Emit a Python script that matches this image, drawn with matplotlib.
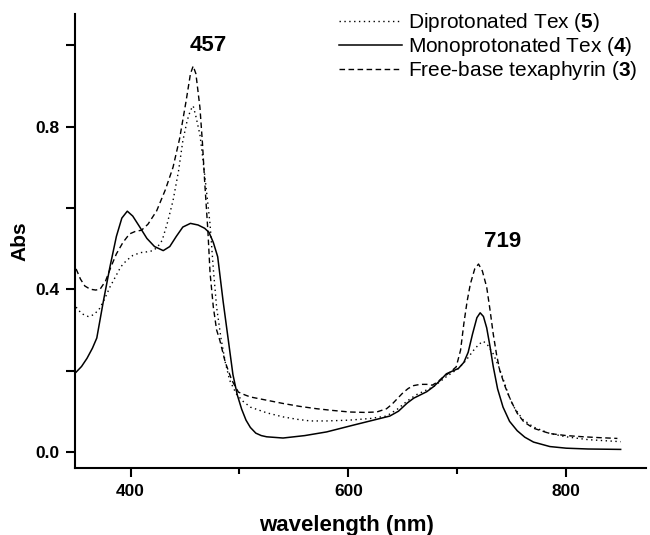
import matplotlib
matplotlib.use("Agg")
import matplotlib.pyplot as plt
from matplotlib.ticker import FixedLocator

plt.rcParams['font.family'] = ['Liberation Sans', 'DejaVu Sans']
plt.rcParams['mathtext.fontset'] = 'custom'
plt.rcParams['mathtext.rm'] = 'Liberation Sans'
plt.rcParams['mathtext.bf'] = 'Liberation Sans:bold'

# Monoprotonated Tex (4) - solid
wl_mono = [350, 355, 360, 365, 369, 375, 381, 387, 392, 397, 402, 408, 415, 422, 430,
           436, 442, 448, 455, 462, 468, 472, 476, 480, 485, 490, 494, 498, 502, 506,
           510, 515, 520, 525, 540, 560, 580, 605, 620, 638, 646, 654, 660, 666, 672,
           678, 684, 690, 695, 701, 706, 710, 714, 718, 721, 724, 727, 730, 733, 737,
           742, 748, 755, 762, 770, 785, 800, 820, 850]
abs_mono = [0.196, 0.21, 0.23, 0.255, 0.28, 0.37, 0.454, 0.53, 0.575, 0.592, 0.58, 0.555,
            0.525, 0.505, 0.495, 0.505, 0.53, 0.553, 0.562, 0.558, 0.55, 0.54, 0.515,
            0.48, 0.37, 0.27, 0.19, 0.14, 0.105, 0.078, 0.06, 0.046, 0.04, 0.037, 0.034,
            0.040, 0.049, 0.066, 0.076, 0.088, 0.10, 0.12, 0.132, 0.14, 0.148, 0.16,
            0.175, 0.192, 0.198, 0.205, 0.22, 0.245, 0.29, 0.33, 0.342, 0.333, 0.305,
            0.26, 0.21, 0.155, 0.11, 0.075, 0.052, 0.036, 0.024, 0.013, 0.009, 0.007,
            0.006]

# Free-base texaphyrin (3) - dashed
wl_free = [350, 354, 358, 363, 368, 372, 377, 382, 387, 393, 399, 405, 410, 416, 424,
           432, 439, 445, 451, 455, 457.5, 460, 463.7, 466, 468, 471, 473, 476, 479, 482,
           487, 493, 499, 505, 510, 525, 540, 555, 571, 585, 601, 615, 626, 635, 640,
           645, 650, 655, 660, 666, 672, 677, 682, 687, 693, 699, 703, 706, 709, 712,
           716, 719.5, 723, 727, 730, 733, 736, 739, 744, 749, 755, 761, 770, 785, 800,
           816, 830, 847]
abs_free = [0.45, 0.425, 0.408, 0.40, 0.398, 0.40, 0.42, 0.455, 0.487, 0.515, 0.536,
            0.543, 0.545, 0.56, 0.593, 0.645, 0.70, 0.77, 0.863, 0.93, 0.949, 0.93,
            0.847, 0.76, 0.667, 0.544, 0.44, 0.356, 0.30, 0.274, 0.22, 0.176, 0.147,
            0.14, 0.135, 0.127, 0.119, 0.112, 0.106, 0.102, 0.098, 0.097, 0.098, 0.106,
            0.117, 0.131, 0.145, 0.156, 0.163, 0.166, 0.166, 0.164, 0.172, 0.184, 0.195,
            0.209, 0.25, 0.315, 0.37, 0.413, 0.45, 0.462, 0.445, 0.405, 0.35, 0.29, 0.24,
            0.2, 0.16, 0.127, 0.095, 0.074, 0.058, 0.045, 0.04, 0.037, 0.035, 0.033]

# Diprotonated Tex (5) - dotted
wl_di = [350, 355, 361, 366, 371, 376, 381, 386, 391, 396, 402, 409, 415, 421, 425, 429,
         434, 439, 444, 448, 452, 455, 457.5, 460, 463.7, 466, 468, 471, 473, 476, 479,
         483, 487, 491, 497, 503, 510, 525, 540, 553, 565, 580, 601, 620, 635, 645, 654,
         662, 670, 678, 690, 701, 708, 715, 720, 724, 728, 733, 738, 742.5, 747, 752,
         760, 770, 785, 800, 820, 850]
abs_di = [0.356, 0.34, 0.333, 0.337, 0.35, 0.375, 0.405, 0.43, 0.455, 0.47, 0.483, 0.49,
          0.492, 0.495, 0.505, 0.52, 0.565, 0.618, 0.69, 0.765, 0.815, 0.84, 0.851, 0.825,
          0.78, 0.73, 0.683, 0.61, 0.56, 0.45, 0.356, 0.28, 0.22, 0.176, 0.143, 0.125,
          0.11, 0.096, 0.086, 0.08, 0.076, 0.076, 0.078, 0.082, 0.088, 0.105, 0.125, 0.14,
          0.15, 0.16, 0.185, 0.205, 0.225, 0.25, 0.265, 0.272, 0.262, 0.241, 0.21, 0.176,
          0.14, 0.11, 0.08, 0.061, 0.045, 0.037, 0.03, 0.025]

labels = [r'Diprotonated Tex ($\mathbf{5}$)',
          r'Monoprotonated Tex ($\mathbf{4}$)',
          r'Free-base texaphyrin ($\mathbf{3}$)']
peak_labels = ['457', '719']
peak_pos = [(471, 1.0), (742, 0.517)]
x_ticks = [400, 600, 800]
y_ticks = [0.0, 0.4, 0.8]

fig = plt.figure(figsize=(6.5, 5.35), dpi=100)
ax = fig.add_axes([0.1154, 0.1258, 0.878, 0.848])

ax.plot(wl_di, abs_di, color='black', lw=1.0, linestyle=(0, (1, 2.5)), label=labels[0])
ax.plot(wl_mono, abs_mono, color='black', lw=1.1, linestyle='-', label=labels[1])
ax.plot(wl_free, abs_free, color='black', lw=1.0, linestyle=(0, (4, 2.5)), label=labels[2])

for txt, (x, y) in zip(peak_labels, peak_pos):
    ax.text(x, y, txt, ha='center', va='center', fontsize=16, fontweight='bold')

ax.set_xlim(349, 873)
ax.set_ylim(-0.039, 1.077)
ax.xaxis.set_major_locator(FixedLocator(x_ticks))
ax.xaxis.set_minor_locator(FixedLocator([500, 700]))
ax.yaxis.set_major_locator(FixedLocator(y_ticks))
ax.yaxis.set_minor_locator(FixedLocator([0.2, 0.6, 1.0]))
ax.set_xticklabels([str(t) for t in x_ticks])
ax.set_yticklabels(['%.1f' % t for t in y_ticks])

for s in ['top', 'right']:
    ax.spines[s].set_visible(False)
for s in ['left', 'bottom']:
    ax.spines[s].set_linewidth(1.5)

ax.tick_params(axis='both', which='major', direction='out', length=6.5, width=1.5,
               labelsize=12.5, pad=5)
ax.tick_params(axis='x', which='minor', direction='out', length=4, width=1.5)
ax.tick_params(axis='y', which='minor', direction='out', length=6.5, width=1.5)
for lab in ax.get_xticklabels() + ax.get_yticklabels():
    lab.set_fontweight('bold')

ax.set_xlabel('wavelength (nm)', fontsize=16, fontweight='bold', labelpad=10)
ax.xaxis.set_label_coords(0.475, -0.105)
ax.set_ylabel('Abs', fontsize=15, fontweight='bold', labelpad=4)

leg = ax.legend(loc='upper right', bbox_to_anchor=(1.0, 1.025), frameon=False,
                fontsize=15, handlelength=3.0, handletextpad=0.3, labelspacing=0.05,
                borderaxespad=0.0)

fig.savefig('out.png', dpi=100)
